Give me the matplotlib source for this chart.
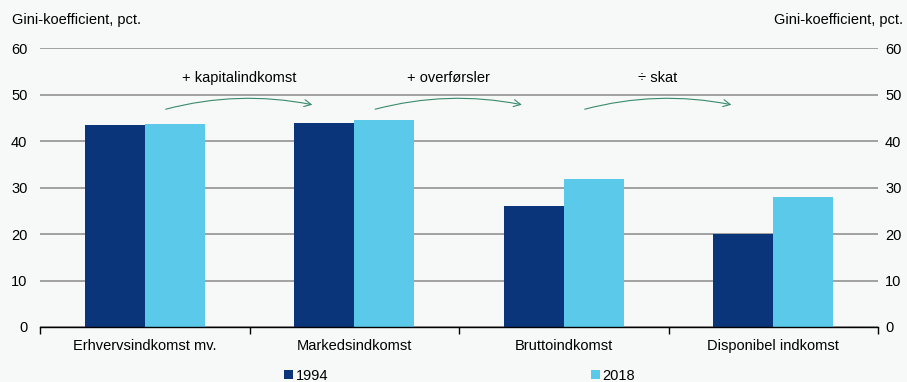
import matplotlib.pyplot as plt
import numpy as np
from matplotlib.patches import FancyArrowPatch

plt.rcParams["font.family"] = ["Liberation Sans", "DejaVu Sans"]

# ---------------- DATA ----------------
categories = ["Erhvervsindkomst mv.", "Markedsindkomst", "Bruttoindkomst", "Disponibel indkomst"]
gini_1994 = [43.5, 43.8, 26.0, 20.0]
gini_2018 = [43.6, 44.5, 31.8, 28.0]
steps = ["+ kapitalindkomst", "+ overførsler", "÷ skat"]

dark = "#0a357a"
light = "#5bcaea"
bg = "#f7f9f9"

# ---------------- PLOT ----------------
fig = plt.figure(figsize=(9.07, 3.82), dpi=100, facecolor=bg)
ax = fig.add_axes([0.0441, 0.144, 0.924, 0.730], facecolor=bg)

x = np.arange(len(categories))
w = 0.286
ax.bar(x - w / 2, gini_1994, w, color=dark, label="1994", zorder=3)
ax.bar(x + w / 2, gini_2018, w, color=light, label="2018", zorder=3)

ax.set_xlim(-0.5, len(categories) - 0.5)
ax.set_ylim(0, 60)
ax.set_yticks(range(0, 61, 10))
ax.yaxis.grid(True, color="#9a9a9a", linewidth=1.3, zorder=0)
ax.set_axisbelow(True)

for s in ["top", "left", "right"]:
    ax.spines[s].set_visible(False)
ax.spines["bottom"].set_color("black")
ax.spines["bottom"].set_linewidth(1.0)
ax.spines["bottom"].set_zorder(4)

ax.set_xticks(x)
ax.set_xticklabels(categories, fontsize=10.5)
ax.set_xticks(np.arange(-0.5, len(categories)), minor=True)
ax.tick_params(axis="x", which="major", length=0, pad=9)
ax.tick_params(axis="x", which="minor", length=5, width=1.0, direction="out")
ax.tick_params(axis="y", length=0, labelsize=10.5, pad=9)

# mirrored scale on the right
ax2 = ax.twinx()
ax2.set_ylim(ax.get_ylim())
ax2.set_yticks(range(0, 61, 10))
ax2.tick_params(axis="y", length=0, labelsize=10.5, pad=5)
for s in ax2.spines.values():
    s.set_visible(False)

# axis titles on both sides
fig.text(12 / 907, 1 - 20 / 382, "Gini-koefficient, pct.", fontsize=10.5,
         ha="left", va="center")
fig.text(903 / 907, 1 - 20 / 382, "Gini-koefficient, pct.", fontsize=10.5,
         ha="right", va="center")

# curved arrows between the income concepts
for i, label in enumerate(steps):
    arr = FancyArrowPatch((i + 0.087, 46.7), (i + 0.813, 47.7),
                          connectionstyle="arc3,rad=-0.12",
                          arrowstyle="->,head_length=5,head_width=2.5",
                          color="#3a8a6a", linewidth=0.8, zorder=5)
    ax.add_patch(arr)
    ax.text(i + 0.45, 53.5, label, fontsize=10.5, ha="center", va="center")

fig.legend(*ax.get_legend_handles_labels(), loc="center left",
           bbox_to_anchor=(277 / 907, 1 - 376 / 382), ncol=2,
           frameon=False, fontsize=10.5, handlelength=0.6, handleheight=0.6,
           handletextpad=0.2, columnspacing=18.0, borderpad=0)

fig.savefig("out.png", dpi=100, facecolor=bg)
plt.close(fig)
